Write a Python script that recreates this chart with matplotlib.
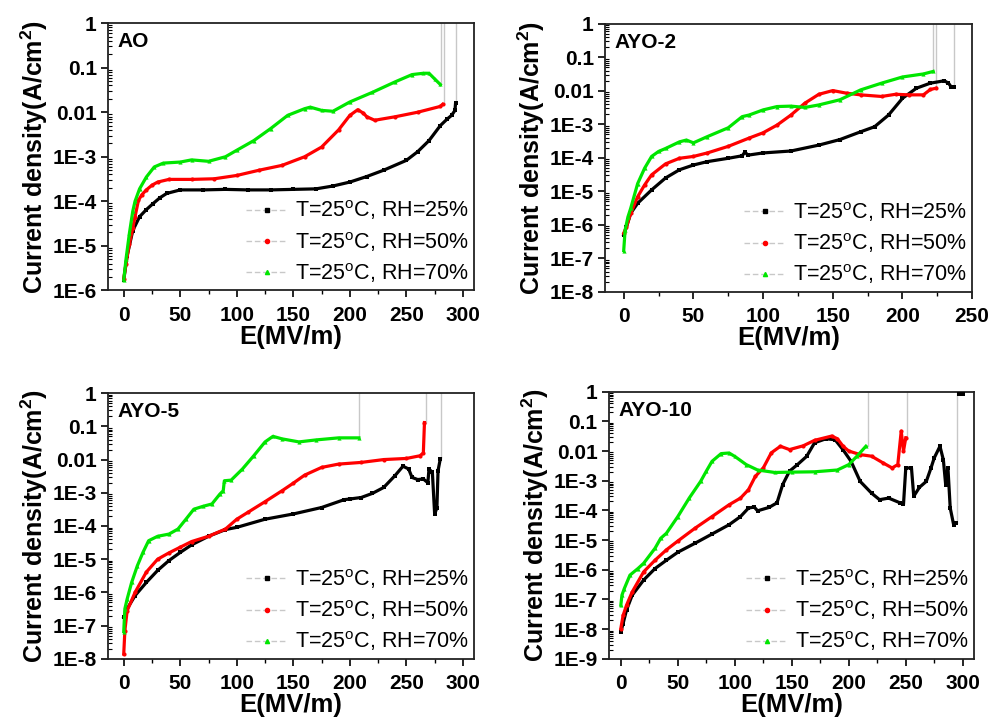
import numpy as np
import matplotlib
matplotlib.use("Agg")
import matplotlib.pyplot as plt
from matplotlib.lines import Line2D
from matplotlib.ticker import MultipleLocator, LogLocator, NullFormatter

plt.rcParams['font.family'] = ['Liberation Sans', 'DejaVu Sans']
plt.rcParams['mathtext.fontset'] = 'custom'
plt.rcParams['mathtext.rm'] = 'Liberation Sans'
plt.rcParams['mathtext.bf'] = 'Liberation Sans:bold'

# ---- data ----
series_labels = ["T=25$^{\\rm o}$C, RH=25%", "T=25$^{\\rm o}$C, RH=50%", "T=25$^{\\rm o}$C, RH=70%"]
panel_names = ["AO", "AYO-2", "AYO-5", "AYO-10"]

# AO
ao_E25 = [0, 3, 8, 14, 20, 26, 32, 38, 50, 70, 90, 110, 130, 150, 170, 185, 200, 215, 230, 250, 260, 270, 280, 286, 290, 293, 293.5]
ao_J25 = [1.7e-6, 6e-6, 2.2e-5, 4.5e-5, 6.5e-5, 8.9e-5, 1.2e-4, 1.5e-4, 1.8e-4, 1.8e-4, 1.85e-4, 1.8e-4, 1.8e-4, 1.85e-4, 1.9e-4, 2.2e-4, 2.7e-4, 3.6e-4, 5e-4, 8.3e-4, 1.3e-3, 2.3e-3, 5e-3, 7e-3, 8.5e-3, 0.011, 0.016]
ao_E50 = [0, 2, 5, 8, 10, 13, 16, 20, 25, 30, 40, 60, 80, 100, 120, 140, 160, 175, 190, 200, 207, 212, 215, 222, 240, 260, 280, 282]
ao_J50 = [1.8e-6, 4e-6, 1.1e-5, 2.5e-5, 4.5e-5, 1.05e-4, 1.4e-4, 1.8e-4, 2.3e-4, 2.7e-4, 3.1e-4, 3.1e-4, 3.2e-4, 3.8e-4, 5e-4, 6.4e-4, 1e-3, 1.65e-3, 4e-3, 8.5e-3, 0.0114, 0.0095, 7.9e-3, 6.6e-3, 7.9e-3, 0.01, 0.0135, 0.015]
ao_E70 = [0, 2, 5, 8, 10, 14, 20, 27, 35, 50, 60, 75, 90, 100, 115, 130, 145, 160, 165, 175, 185, 200, 220, 240, 255, 265, 270, 275, 280]
ao_J70 = [1.7e-6, 5e-6, 1.9e-5, 6e-5, 1e-4, 1.9e-4, 3.5e-4, 5.9e-4, 7.2e-4, 7.6e-4, 8.5e-4, 7.9e-4, 1e-3, 1.4e-3, 2.3e-3, 4.3e-3, 8.5e-3, 0.012, 0.013, 0.011, 0.0105, 0.017, 0.028, 0.048, 0.07, 0.075, 0.075, 0.056, 0.042]

# AYO-2
a2_E25 = [0, 2, 5, 10, 20, 30, 40, 50, 60, 75, 85, 87, 89, 100, 120, 140, 155, 170, 180, 190, 200, 210, 220, 230, 233, 235, 237]
a2_J25 = [5e-7, 8.7e-7, 2.2e-6, 4.4e-6, 1.1e-5, 2.5e-5, 4.4e-5, 6.1e-5, 7.7e-5, 9.7e-5, 1.15e-4, 1.5e-4, 1.2e-4, 1.4e-4, 1.6e-4, 2.4e-4, 3.5e-4, 6e-4, 8.5e-4, 1.9e-3, 6e-3, 0.012, 0.017, 0.02, 0.017, 0.013, 0.013]
a2_E50 = [0, 2, 5, 10, 15, 20, 30, 40, 50, 60, 75, 90, 100, 110, 120, 130, 140, 150, 160, 170, 185, 195, 205, 215, 220, 224]
a2_J50 = [5.6e-7, 8.7e-7, 2.2e-6, 6.9e-6, 1.55e-5, 3.1e-5, 6.6e-5, 9.7e-5, 1.1e-4, 1.4e-4, 2.2e-4, 3.9e-4, 5.6e-4, 9.5e-4, 1.9e-3, 4.3e-3, 7.9e-3, 0.0102, 8.5e-3, 7.6e-3, 6.8e-3, 7.9e-3, 7.6e-3, 7.6e-3, 0.011, 0.012]
a2_E70 = [0, 1, 3, 5, 10, 15, 20, 25, 30, 40, 45, 50, 60, 75, 85, 90, 100, 110, 120, 130, 140, 155, 170, 185, 200, 215, 222]
a2_J70 = [1.7e-7, 6.9e-7, 1.7e-6, 3.1e-6, 1.7e-5, 4.9e-5, 1.1e-4, 1.55e-4, 1.9e-4, 3e-4, 3.4e-4, 2.8e-4, 4.3e-4, 7.9e-4, 1.7e-3, 1.9e-3, 2.7e-3, 3.4e-3, 3.5e-3, 3.2e-3, 3.8e-3, 5.4e-3, 0.0107, 0.017, 0.026, 0.032, 0.038]

# AYO-5
a5_E25 = [0, 3, 10, 20, 30, 40, 50, 60, 75, 90, 100, 125, 150, 175, 195, 200, 210, 220, 230, 240, 247, 252, 255, 260, 265, 269, 270, 273, 275, 277, 278, 280]
a5_J25 = [1.8e-7, 3.2e-7, 8e-7, 2e-6, 4.6e-6, 9.1e-6, 1.6e-5, 2.7e-5, 4.9e-5, 7.8e-5, 9.1e-5, 1.6e-4, 2.3e-4, 3.6e-4, 6.2e-4, 6.5e-4, 7.2e-4, 9.6e-4, 1.45e-3, 3.3e-3, 6.3e-3, 5.2e-3, 2.9e-3, 2.5e-3, 2.6e-3, 2e-3, 5.2e-3, 4.1e-3, 2.3e-4, 3.5e-4, 4.6e-3, 0.0105]
a5_E50 = [0, 1, 3, 10, 20, 30, 40, 50, 60, 75, 90, 100, 110, 125, 140, 150, 160, 175, 190, 210, 230, 250, 262, 265, 266]
a5_J50 = [1.4e-8, 7e-8, 2.8e-7, 1e-6, 4.1e-6, 1e-5, 1.55e-5, 2.3e-5, 3.4e-5, 4.9e-5, 8.1e-5, 1.6e-4, 2.6e-4, 5.4e-4, 1.15e-3, 1.95e-3, 3.4e-3, 5.8e-3, 7.3e-3, 8.2e-3, 0.01, 0.0108, 0.013, 0.0158, 0.13]
a5_E70 = [0, 1, 3, 7, 12, 17, 22, 30, 40, 48, 55, 62, 70, 78, 85, 88, 89, 95, 105, 115, 125, 132, 140, 155, 170, 190, 208]
a5_J70 = [6.6e-8, 3.2e-7, 6.3e-7, 2e-6, 6.3e-6, 1.6e-5, 3.6e-5, 4.9e-5, 5.7e-5, 8.1e-5, 1.6e-4, 3.2e-4, 3.9e-4, 4.6e-4, 9.1e-4, 1.15e-3, 2.3e-3, 2.4e-3, 5.2e-3, 0.013, 0.034, 0.05, 0.042, 0.034, 0.039, 0.045, 0.045]

# AYO-10
a10_E25 = [0, 2, 5, 10, 20, 30, 40, 50, 65, 80, 95, 105, 112, 117, 120, 130, 137, 142, 148, 155, 163, 170, 180, 188, 195, 202, 210, 220, 227, 235, 245, 248, 250, 255, 257, 262, 268, 272, 275, 280, 283, 285, 287, 289, 292, 294]
a10_J25 = [8e-9, 1.55e-8, 4.4e-8, 1.4e-7, 4.5e-7, 1.1e-6, 2.1e-6, 3.9e-6, 7.8e-6, 1.6e-5, 3.3e-5, 6.2e-5, 1.2e-4, 1.3e-4, 9.7e-5, 1.26e-4, 1.8e-4, 7.4e-4, 2.1e-3, 3.5e-3, 6.6e-3, 0.019, 0.026, 0.024, 0.011, 4.5e-3, 9.5e-4, 3.8e-4, 2.3e-4, 2.6e-4, 1.8e-4, 1.6e-4, 2.7e-3, 2.7e-3, 3e-4, 6e-4, 9.5e-4, 2.6e-3, 5.9e-3, 0.0145, 5e-3, 7.4e-4, 2.7e-3, 1.2e-4, 3.3e-5, 3.7e-5]
a10_E50 = [0, 2, 5, 10, 20, 30, 40, 50, 65, 80, 95, 105, 112, 118, 125, 132, 140, 148, 160, 170, 185, 190, 195, 200, 210, 220, 230, 238, 243, 246, 248, 250]
a10_J50 = [1.05e-8, 2.9e-8, 6.4e-8, 1.8e-7, 8.5e-7, 2.1e-6, 4.7e-6, 9.3e-6, 2.5e-5, 6.2e-5, 1.55e-4, 2.6e-4, 5e-4, 1.4e-3, 2.7e-3, 8.7e-3, 0.0145, 0.0112, 0.015, 0.023, 0.032, 0.026, 0.0145, 0.01, 7.6e-3, 6.7e-3, 4e-3, 2.7e-3, 3.5e-3, 0.047, 0.01, 0.028]
a10_E70 = [0, 1, 3, 8, 15, 20, 30, 35, 40, 50, 60, 70, 75, 80, 88, 95, 100, 110, 120, 135, 150, 170, 190, 200, 207, 215]
a10_J70 = [6.4e-8, 1.4e-7, 2.3e-7, 6.6e-7, 1.1e-6, 1.65e-6, 5.3e-6, 1.15e-5, 1.7e-5, 6.2e-5, 2.6e-4, 9.5e-4, 2.1e-3, 4.5e-3, 8.2e-3, 8.6e-3, 6.6e-3, 3.5e-3, 2.3e-3, 1.9e-3, 1.95e-3, 2e-3, 2.3e-3, 3.5e-3, 6.6e-3, 0.0145]
a10_E25_after = [297, 300]
a10_J25_after = [0.85, 0.82]

# field where each sample broke down (gray vertical trace)
bd_E = {
    "AO": [294, 283, 281],
    "AYO-2": [237, 224, 222],
    "AYO-5": [280.5, 267, 208],
    "AYO-10": [295, 251, 217],
}

data = {
    "AO": [(ao_E25, ao_J25), (ao_E50, ao_J50), (ao_E70, ao_J70)],
    "AYO-2": [(a2_E25, a2_J25), (a2_E50, a2_J50), (a2_E70, a2_J70)],
    "AYO-5": [(a5_E25, a5_J25), (a5_E50, a5_J50), (a5_E70, a5_J70)],
    "AYO-10": [(a10_E25, a10_J25), (a10_E50, a10_J50), (a10_E70, a10_J70)],
}
ymin_exp = {"AO": 6, "AYO-2": 8, "AYO-5": 8, "AYO-10": 9}
xlims = {"AO": (-14, 310), "AYO-2": (-13.5, 250), "AYO-5": (-14, 310), "AYO-10": (-10.5, 310)}

colors = ["#000000", "#ff0000", "#00e600"]
markers = ["s", "o", "^"]
gray = "#c8c8c8"

positions = {
    "AO": [0.109, 0.599, 0.370, 0.369],
    "AYO-2": [0.611, 0.597, 0.371, 0.370],
    "AYO-5": [0.109, 0.090, 0.370, 0.367],
    "AYO-10": [0.615, 0.090, 0.369, 0.369],
}

fig = plt.figure(figsize=(9.9, 7.24), dpi=100)

for name in panel_names:
    ax = fig.add_axes(positions[name])
    for i, (E, J) in enumerate(data[name]):
        # breakdown trace
        ax.plot([E[-1], bd_E[name][i], bd_E[name][i]], [J[-1], J[-1], 10],
                color=gray, lw=1.0, zorder=1)
        ax.plot(E, J, color=colors[i], lw=2.3, marker=markers[i], ms=3,
                markeredgewidth=0, zorder=3)
    if name == "AYO-10":
        ax.plot(a10_E25_after, a10_J25_after, color=colors[0], lw=2.3,
                marker="s", ms=3, markeredgewidth=0, zorder=3)

    n = ymin_exp[name]
    ax.set_yscale("log")
    ax.set_ylim(10.0 ** (-n), 1)
    yt = [10.0 ** (-k) for k in range(n + 1)]
    ylabels = ["1", "0.1", "0.01"] + [f"1E-{k}" for k in range(3, n + 1)]
    ax.set_yticks(yt)
    ax.set_yticklabels(ylabels)
    ax.yaxis.set_minor_locator(LogLocator(base=10, subs=np.arange(2, 10) * 1.0, numticks=20))
    ax.yaxis.set_minor_formatter(NullFormatter())

    ax.set_xlim(*xlims[name])
    ax.xaxis.set_major_locator(MultipleLocator(50))
    ax.xaxis.set_minor_locator(MultipleLocator(25))

    ax.tick_params(axis="both", which="major", direction="out", length=5, width=1.2,
                   labelsize=15, top=False, right=False)
    ax.tick_params(axis="x", which="major", pad=6)
    ax.tick_params(axis="y", which="major", pad=3)
    ax.tick_params(axis="x", which="minor", direction="out", length=3, width=1.0)
    ax.tick_params(axis="y", which="minor", direction="in", length=3, width=0.8,
                   right=False)
    for lab in ax.get_xticklabels() + ax.get_yticklabels():
        lab.set_fontweight("bold")
    for sp in ax.spines.values():
        sp.set_linewidth(1.3)
        sp.set_color("#222222")

    ax.set_xlabel("E(MV/m)", fontsize=18.5, fontweight="bold", labelpad=0)
    ax.set_ylabel("Current density(A/cm$^{\\mathbf{2}}$)", fontsize=18,
                  fontweight="bold", labelpad=2)
    ax.text(0.027, 0.966, name, transform=ax.transAxes, fontsize=15,
            fontweight="bold", va="top", ha="left")

    handles = [Line2D([0], [0], color=gray, lw=1.0, ls=(0, (4, 2)), marker=markers[i],
                      markerfacecolor=colors[i], markeredgecolor=colors[i], ms=3)
               for i in range(3)]
    ax.legend(handles, series_labels, loc="lower right", frameon=False,
              handlelength=1.9, handletextpad=0.35,
              labelspacing=0.35, borderaxespad=0.1, borderpad=0.15,
              prop={"size": 15.5})

fig.savefig("out.png", dpi=100)
